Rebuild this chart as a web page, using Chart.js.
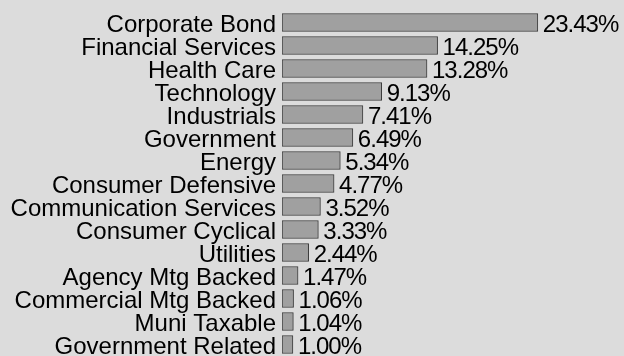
<!DOCTYPE html>
<html>
<head>
<meta charset="utf-8">
<script src="https://cdn.jsdelivr.net/npm/chart.js@4/dist/chart.umd.min.js"></script>
<style>
html,body{margin:0;padding:0;background:#dcdcdc;}
#wrap{width:624px;height:356px;position:relative;}
</style>
</head>
<body>
<div id="wrap"><canvas id="c" width="624" height="356"></canvas></div>
<script>
const categories = ["Corporate Bond","Financial Services","Health Care","Technology","Industrials","Government","Energy","Consumer Defensive","Communication Services","Consumer Cyclical","Utilities","Agency Mtg Backed","Commercial Mtg Backed","Muni Taxable","Government Related"];
const values = [23.43,14.25,13.28,9.13,7.41,6.49,5.34,4.77,3.52,3.33,2.44,1.47,1.06,1.04,1.00];
const valueLabels = ["23.43%","14.25%","13.28%","9.13%","7.41%","6.49%","5.34%","4.77%","3.52%","3.33%","2.44%","1.47%","1.06%","1.04%","1.00%"];

const FONT = "'Liberation Sans', Arial, sans-serif";

const valuePlugin = {
  id: 'valueLabels',
  afterDatasetsDraw(chart) {
    const ctx = chart.ctx;
    const meta = chart.getDatasetMeta(0);
    ctx.save();
    ctx.font = "24px " + FONT;
    try { ctx.letterSpacing = "-1px"; } catch (e) {}
    ctx.fillStyle = "#000";
    ctx.textAlign = "left";
    ctx.textBaseline = "middle";
    meta.data.forEach((bar, i) => {
      ctx.fillText(valueLabels[i], bar.x + 5, bar.y + 3);
    });
    ctx.restore();
  }
};

new Chart(document.getElementById('c'), {
  type: 'bar',
  data: {
    labels: categories,
    datasets: [{
      data: values,
      backgroundColor: '#a0a0a0',
      borderColor: '#3a3a3a',
      borderWidth: 1,
      borderSkipped: false,
      barThickness: 18
    }]
  },
  options: {
    indexAxis: 'y',
    responsive: false,
    animation: false,
    layout: { padding: { top: 11, bottom: 0, left: 0, right: 69 } },
    plugins: { legend: { display: false }, tooltip: { enabled: false } },
    scales: {
      x: { display: false, min: 0, max: 25 },
      y: {
        afterFit(scale) { scale.width = 282; scale.paddingTop = 0; scale.paddingBottom = 0; },
        grid: { display: false, drawTicks: false },
        border: { display: false },
        ticks: {
          color: '#000',
          padding: 6,
          labelOffset: 3,
          font: { family: FONT, size: 24 },
          autoSkip: false
        }
      }
    }
  },
  plugins: [valuePlugin]
});
</script>
</body>
</html>
